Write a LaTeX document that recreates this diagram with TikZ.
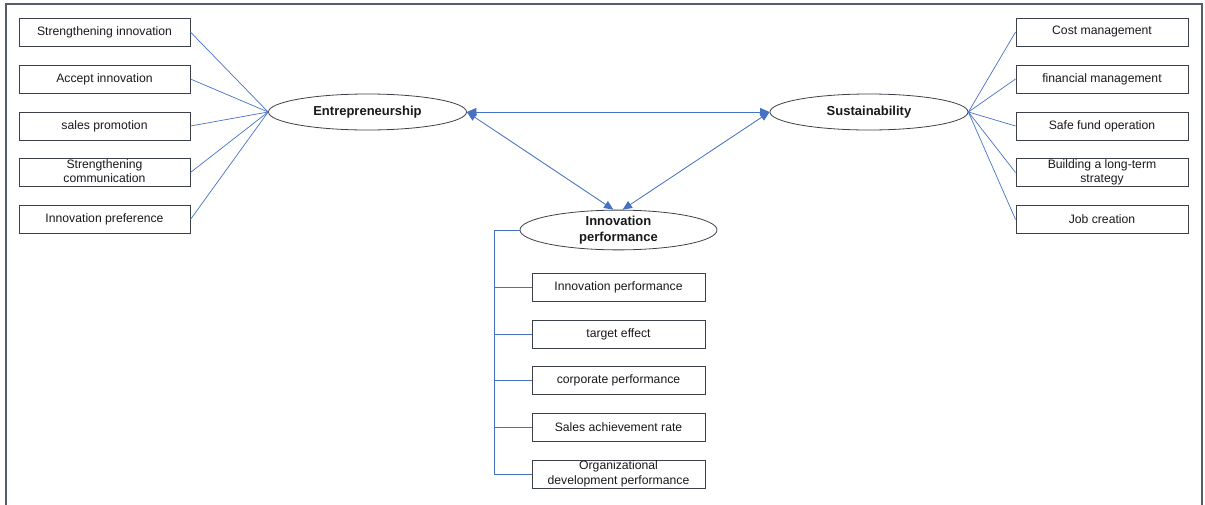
\documentclass[tikz,border=0pt]{standalone}
\usepackage{fontspec}
\setmainfont{Liberation Sans}
\usetikzlibrary{shapes.geometric,arrows.meta,calc}
\definecolor{frm}{RGB}{84,92,108}
\definecolor{bdr}{RGB}{60,64,72}
\definecolor{lnk}{RGB}{70,114,196}
\definecolor{txt}{RGB}{25,25,25}
\tikzset{
  itembox/.style={draw=bdr, line width=0.9pt, rectangle, minimum width=171pt, minimum height=28pt, inner sep=0pt, align=center, text=txt, font=\fontsize{12.2}{14.5}\selectfont},
  factor/.style={draw=bdr, line width=0.8pt, ellipse, minimum width=198pt, minimum height=36pt, inner sep=0pt, align=center, text=txt, font=\fontsize{13}{16}\selectfont\bfseries},
  link/.style={draw=lnk, line width=0.7pt},
  twoway/.style={draw=lnk, line width=0.8pt, {Triangle[length=9.5pt,width=8pt]}-{Triangle[length=9.5pt,width=8pt]}, fill=lnk}
}
\begin{document}
\begin{tikzpicture}[x=1pt,y=-1pt]
\useasboundingbox (0,0) rectangle (1205,504);
\draw[frm, line width=2pt] (6,506) -- (6,3.5) -- (1202,3.5) -- (1202,506);

% factors
\node[factor] (E) at (367.5,112) {Entrepreneurship};
\node[factor] (S) at (869,112) {Sustainability};
\node[factor, minimum width=197pt] (I) at (618.5,230) {Innovation\\performance};

% left items
\node[itembox] (l1) at (104.5,32) {Strengthening innovation};
\node[itembox] (l2) at (104.5,79) {Accept innovation};
\node[itembox] (l3) at (104.5,126) {sales promotion};
\node[itembox, text depth=3pt] (l4) at (104.5,172.5) {Strengthening\\communication};
\node[itembox] (l5) at (104.5,219.5) {Innovation preference};

% right items
\node[itembox, minimum width=172pt] (r1) at (1102,32) {Cost management};
\node[itembox, minimum width=172pt] (r2) at (1102,79) {financial management};
\node[itembox, minimum width=172pt] (r3) at (1102,126) {Safe fund operation};
\node[itembox, minimum width=172pt, text depth=3pt] (r4) at (1102,172.5) {Building a long-term\\strategy};
\node[itembox, minimum width=172pt] (r5) at (1102,219.5) {Job creation};

% bottom items
\node[itembox, minimum width=173pt] (b1) at (618.5,287) {Innovation performance};
\node[itembox, minimum width=173pt] (b2) at (618.5,334) {target effect};
\node[itembox, minimum width=173pt] (b3) at (618.5,380.5) {corporate performance};
\node[itembox, minimum width=173pt] (b4) at (618.5,427) {Sales achievement rate};
\node[itembox, minimum width=173pt, text depth=3pt] (b5) at (618.5,474) {Organizational\\development performance};

% links left
\foreach \n in {l1,l2,l3,l4,l5} \draw[link] (\n.east) -- (E.west);
% links right
\foreach \n in {r1,r2,r3,r4,r5} \draw[link] (S.east) -- (\n.west);

% two-way arrows
\draw[twoway] (E.east) -- (S.west);
\draw[twoway] (E.east) -- ([xshift=-5pt]I.north);
\draw[twoway] (S.west) -- ([xshift=4pt]I.north);

% tree
\coordinate (trunk) at (494,230);
\draw[link, line width=0.9pt] (I.west) -- (trunk) |- (b5.west);
\foreach \n in {b1,b2,b3,b4} \draw[link, line width=0.9pt] (trunk |- \n.west) -- (\n.west);
\end{tikzpicture}
\end{document}
